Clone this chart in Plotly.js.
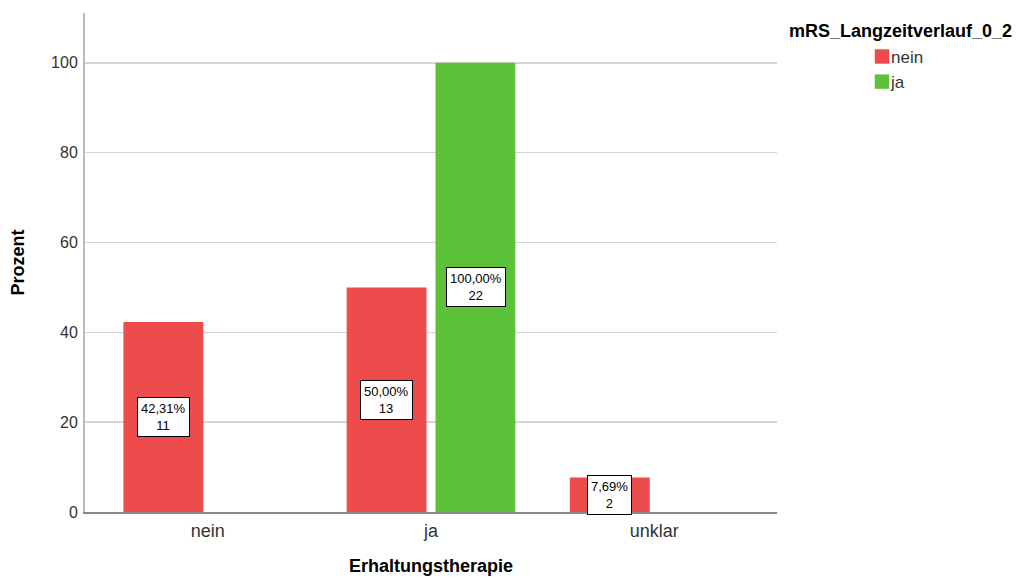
<!DOCTYPE html>
<html>
<head>
<meta charset="utf-8">
<script src="https://cdn.plot.ly/plotly-3.0.1.min.js"></script>
<style>html,body{margin:0;padding:0;background:#fff;}#chart{width:1018px;height:583px;}</style>
</head>
<body>
<div id="chart"></div>
<script>
const categories = ["nein", "ja", "unklar"];
const seriesNames = ["nein", "ja"];
const percentNein = [42.31, 50.00, 7.69];
const percentJa = [0, 100.00, 0];
const countNein = [11, 13, 2];
const countJa = [0, 22, 0];
const yTicks = [0, 20, 40, 60, 80, 100];

const colors = ["#EE4B4D", "#5EC13A"];
const font = "Liberation Sans, Arial, sans-serif";

const traces = [
  {type: "bar", name: seriesNames[0], x: categories, y: percentNein, marker: {color: colors[0]}, hoverinfo: "none"},
  {type: "bar", name: seriesNames[1], x: categories, y: percentJa, marker: {color: colors[1]}, hoverinfo: "none"}
];

function fmt(v) { return v.toFixed(2).replace(".", ",") + "%"; }

const annotations = [];
const allPct = [percentNein, percentJa];
const allCnt = [countNein, countJa];
const shifts = [-44.5, 44.5];
for (let s = 0; s < 2; s++) {
  for (let i = 0; i < categories.length; i++) {
    if (allCnt[s][i] > 0) {
      annotations.push({
        x: categories[i], y: allPct[s][i] / 2, xref: "x", yref: "y",
        xshift: shifts[s],
        text: fmt(allPct[s][i]) + "<br>" + allCnt[s][i],
        showarrow: false,
        font: {family: font, size: 13, color: "#000"},
        bgcolor: "#fff", bordercolor: "#000", borderwidth: 1, borderpad: 3
      });
    }
  }
}
annotations.push({
  text: "<b>mRS_Langzeitverlauf_0_2</b>", xref: "paper", yref: "paper",
  x: 1.0145, y: 0.964, xanchor: "left", yanchor: "middle", showarrow: false,
  font: {family: font, size: 18, color: "#000"}
});

const layout = {
  width: 1018, height: 583,
  margin: {l: 85, r: 241, t: 13, b: 71},
  paper_bgcolor: "#fff", plot_bgcolor: "#fff",
  barmode: "group", bargap: 0.204, bargroupgap: 0.101,
  font: {family: font, size: 16, color: "#333"},
  xaxis: {
    type: "category", range: [-0.55, 2.55],
    showline: true, linecolor: "#888", linewidth: 1.5, ticks: "", showgrid: false,
    ticklabelstandoff: 2,
    tickfont: {family: font, size: 18, color: "#333"},
    title: {text: "<b>Erhaltungstherapie</b>", font: {family: font, size: 18, color: "#000"}, standoff: 19}
  },
  yaxis: {
    range: [0, 111.1], tickvals: yTicks, ticks: "", zeroline: false,
    showline: true, linecolor: "#bbb", linewidth: 2,
    showgrid: true, gridcolor: "#d4d4d4", gridwidth: 1.5,
    ticklabelstandoff: 2,
    tickfont: {family: font, size: 16, color: "#333"},
    title: {text: "<b>Prozent</b>", font: {family: font, size: 18, color: "#000"}, standoff: 22}
  },
  legend: {
    x: 1.1228, y: 0.948, xanchor: "left", yanchor: "top",
    font: {family: font, size: 17, color: "#333"},
    itemwidth: 30, tracegroupgap: 0, traceorder: "normal"
  },
  showlegend: true,
  annotations: annotations
};

Plotly.newPlot("chart", traces, layout, {displayModeBar: false, staticPlot: true}).then(function () {
  document.querySelectorAll("#chart .legendtext").forEach(function (t) { t.setAttribute("x", "29"); });
  document.querySelectorAll("#chart .legendpoints path").forEach(function (p) {
    const tr = p.getAttribute("transform") || "";
    p.setAttribute("transform", tr + " scale(1.2)");
  });
});
</script>
</body>
</html>
